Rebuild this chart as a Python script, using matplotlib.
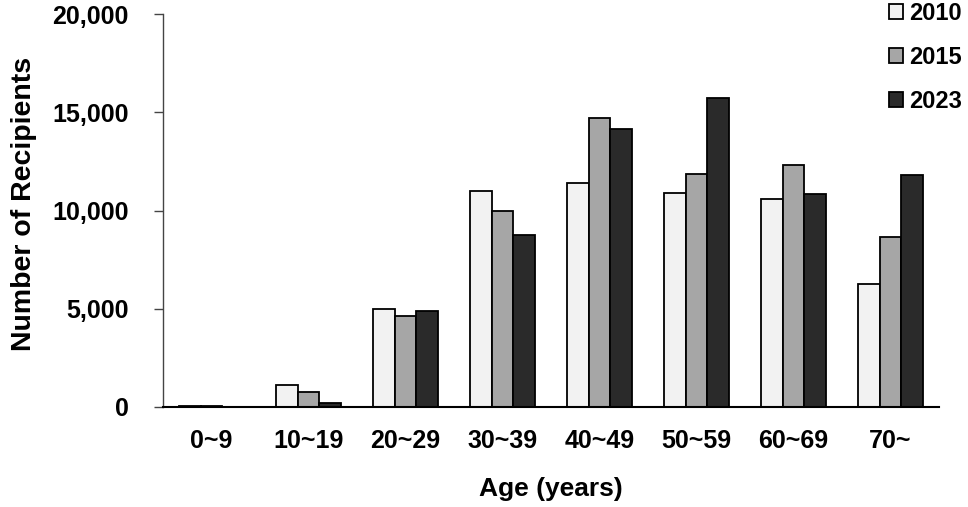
import matplotlib.pyplot as plt
import numpy as np
from matplotlib.ticker import FuncFormatter

# values
age_groups = ['0~9', '10~19', '20~29', '30~39', '40~49', '50~59', '60~69', '70~']
years = ['2010', '2015', '2023']
counts_2010 = [60, 1100, 5000, 11000, 11380, 10900, 10580, 6280]
counts_2015 = [50, 780, 4640, 10000, 14730, 11840, 12310, 8660]
counts_2023 = [10, 190, 4900, 8760, 14170, 15730, 10820, 11790]
bar_colors = ['#f2f2f2', '#a6a6a6', '#2a2a2a']

plt.rcParams['font.family'] = ['Liberation Sans', 'DejaVu Sans']
plt.rcParams['font.weight'] = 'bold'

fig = plt.figure(figsize=(9.68, 5.07), dpi=100)
ax = fig.add_axes([163 / 968, 1 - 407 / 507, (939 - 163) / 968, (407 - 14) / 507])

x = np.arange(len(age_groups))
width = 0.224
series = [counts_2010, counts_2015, counts_2023]
for i, (vals, label, color) in enumerate(zip(series, years, bar_colors)):
    ax.bar(x + (i - 1) * width, vals, width, color=color, edgecolor='black',
           linewidth=1.3, label=label)

ax.set_xlim(-0.5, 7.5)
ax.set_ylim(0, 20000)
ax.set_yticks([0, 5000, 10000, 15000, 20000])
ax.yaxis.set_major_formatter(FuncFormatter(lambda v, p: '{:,.0f}'.format(v)))
ax.set_xticks(x)
ax.set_xticklabels(age_groups)

for s in ['top', 'right']:
    ax.spines[s].set_visible(False)
ax.spines['left'].set_linewidth(1.0)
ax.spines['left'].set_color('#444444')
ax.spines['bottom'].set_linewidth(1.5)

ax.tick_params(axis='y', length=6.5, width=1.0, pad=18, labelsize=18, color='#444444')
ax.tick_params(axis='x', length=0, pad=16, labelsize=18)
for lbl in ax.get_xticklabels() + ax.get_yticklabels():
    lbl.set_fontweight('bold')

ax.set_xlabel('Age (years)', fontsize=19, fontweight='bold')
ax.xaxis.set_label_coords(0.5, -0.178)
ax.set_ylabel('Number of Recipients', fontsize=20.5, fontweight='bold')
ax.yaxis.set_label_coords(-0.163, 0.517)

fig.legend(loc='upper right', bbox_to_anchor=(962 / 968, 1 - 2 / 507), frameon=False,
           prop={'size': 17, 'weight': 'bold'}, handlelength=0.6, handleheight=0.6,
           handletextpad=0.25, labelspacing=0.88, borderaxespad=0, borderpad=0)

fig.savefig('out.png', dpi=100)
